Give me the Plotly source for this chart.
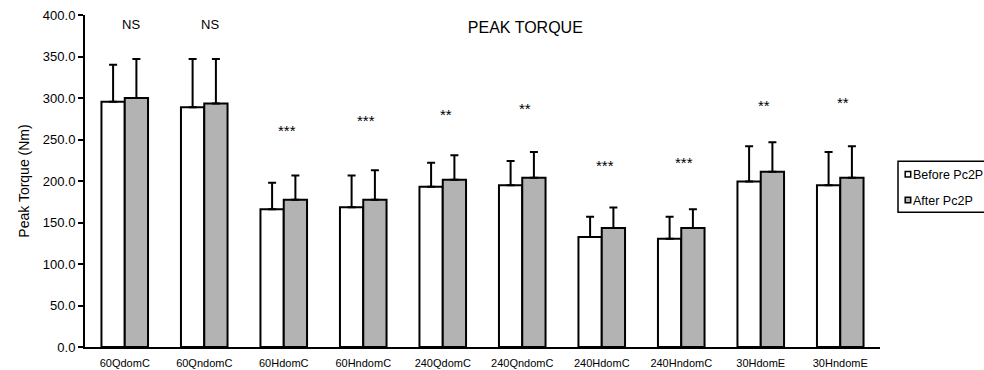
import plotly.graph_objects as go

categories = ["60QdomC", "60QndomC", "60HdomC", "60HndomC", "240QdomC",
              "240QndomC", "240HdomC", "240HndomC", "30HdomE", "30HndomE"]
series_names = ["Before Pc2P", "After Pc2P"]
before_vals = [295.5, 289.0, 166.0, 168.5, 193.0, 195.0, 132.5, 130.5, 199.5, 195.0]
before_sd = [44.5, 58.0, 32.0, 38.2, 29.0, 29.0, 24.5, 26.5, 42.5, 40.0]
after_vals = [300.0, 293.5, 177.5, 177.5, 201.5, 204.0, 143.5, 143.5, 211.0, 204.0]
after_sd = [47.0, 53.5, 29.2, 35.5, 29.5, 31.0, 24.5, 22.5, 35.7, 38.0]
sig_labels = ["NS", "NS", "***", "***", "**", "**", "***", "***", "**", "**"]
sig_heights = [388, 388, 264.6, 276, 284.3, 290.7, 221.7, 225.7, 294.7, 298]
y_ticks = [0, 50, 100, 150, 200, 250, 300, 350, 400]

W, H = 984, 370
ML, MR, MT, MB = 85, 104, 15, 23
PW = W - ML - MR
PH = H - MT - MB

def px_x(px):
    return (px - ML) / PW

def px_y(py):
    return (H - MB - py) / PH

FONT = "Liberation Sans, Arial, sans-serif"
GRAY = "#b3b3b3"
fills = ["white", GRAY]

fig = go.Figure()
for name, vals, sd, fill in zip(series_names, [before_vals, after_vals],
                                [before_sd, after_sd], fills):
    fig.add_trace(go.Bar(
        x=categories, y=vals, name=name, showlegend=False,
        marker=dict(color=fill, line=dict(color="black", width=2)),
        error_y=dict(type="data", symmetric=False, array=sd,
                     arrayminus=[0] * len(sd), color="black",
                     thickness=2, width=4),
    ))

annotations = []
for cat, lab, yv in zip(categories, sig_labels, sig_heights):
    is_ns = lab == "NS"
    annotations.append(dict(
        x=cat, y=yv, xref="x", yref="y", text=lab, showarrow=False,
        xshift=6 if is_ns else 3, yshift=0 if is_ns else -3,
        yanchor="middle", xanchor="center",
        font=dict(family=FONT, size=13 if is_ns else 15, color="black"),
    ))

# custom legend (box + swatches + labels)
shapes = [dict(type="rect", xref="paper", yref="paper",
               x0=px_x(898), x1=px_x(1000), y0=px_y(212.3), y1=px_y(161.3),
               line=dict(color="black", width=1.5), fillcolor="white", layer="above")]
legend_rows = [174.2, 200.0]
for name, fill, cy in zip(series_names, fills, legend_rows):
    shapes.append(dict(type="rect", xref="paper", yref="paper",
                       x0=px_x(905.2), x1=px_x(910.7), y0=px_y(cy + 2.8), y1=px_y(cy - 2.8),
                       line=dict(color="black", width=1.5), fillcolor=fill, layer="above"))
    annotations.append(dict(x=px_x(911.2), y=px_y(cy + 1), xref="paper", yref="paper",
                            text=name, showarrow=False, xanchor="left", yanchor="middle",
                            font=dict(family=FONT, size=12.5, color="black")))

fig.update_layout(
    width=W, height=H,
    margin=dict(l=ML, r=MR, t=MT, b=MB, autoexpand=False),
    paper_bgcolor="white", plot_bgcolor="white",
    barmode="group", bargap=0.414, bargroupgap=0,
    font=dict(family=FONT, color="black"),
    title=dict(text="PEAK TORQUE", x=px_x(525.3), xref="paper", xanchor="center",
               y=1 - 27.5 / H, yref="container", yanchor="middle",
               font=dict(family=FONT, size=16, color="black")),
    xaxis=dict(showline=True, linecolor="black", linewidth=2, ticks="",
               showgrid=False, zeroline=False, ticklabelstandoff=5,
               tickfont=dict(family=FONT, size=11, color="black")),
    yaxis=dict(range=[0, 400], tickvals=y_ticks, tickformat=".1f",
               showline=True, linecolor="black", linewidth=2,
               ticks="outside", ticklen=5, tickwidth=1.5, tickcolor="black",
               showgrid=False, zeroline=False,
               tickfont=dict(family=FONT, size=13, color="black"),
               title=dict(text="Peak Torque (Nm)", standoff=10,
                          font=dict(family=FONT, size=14, color="black"))),
    annotations=annotations,
    shapes=shapes,
)

fig.write_html("out.html", config={"displayModeBar": False},
               post_script="document.body.style.margin='0';document.body.style.overflow='hidden';")
